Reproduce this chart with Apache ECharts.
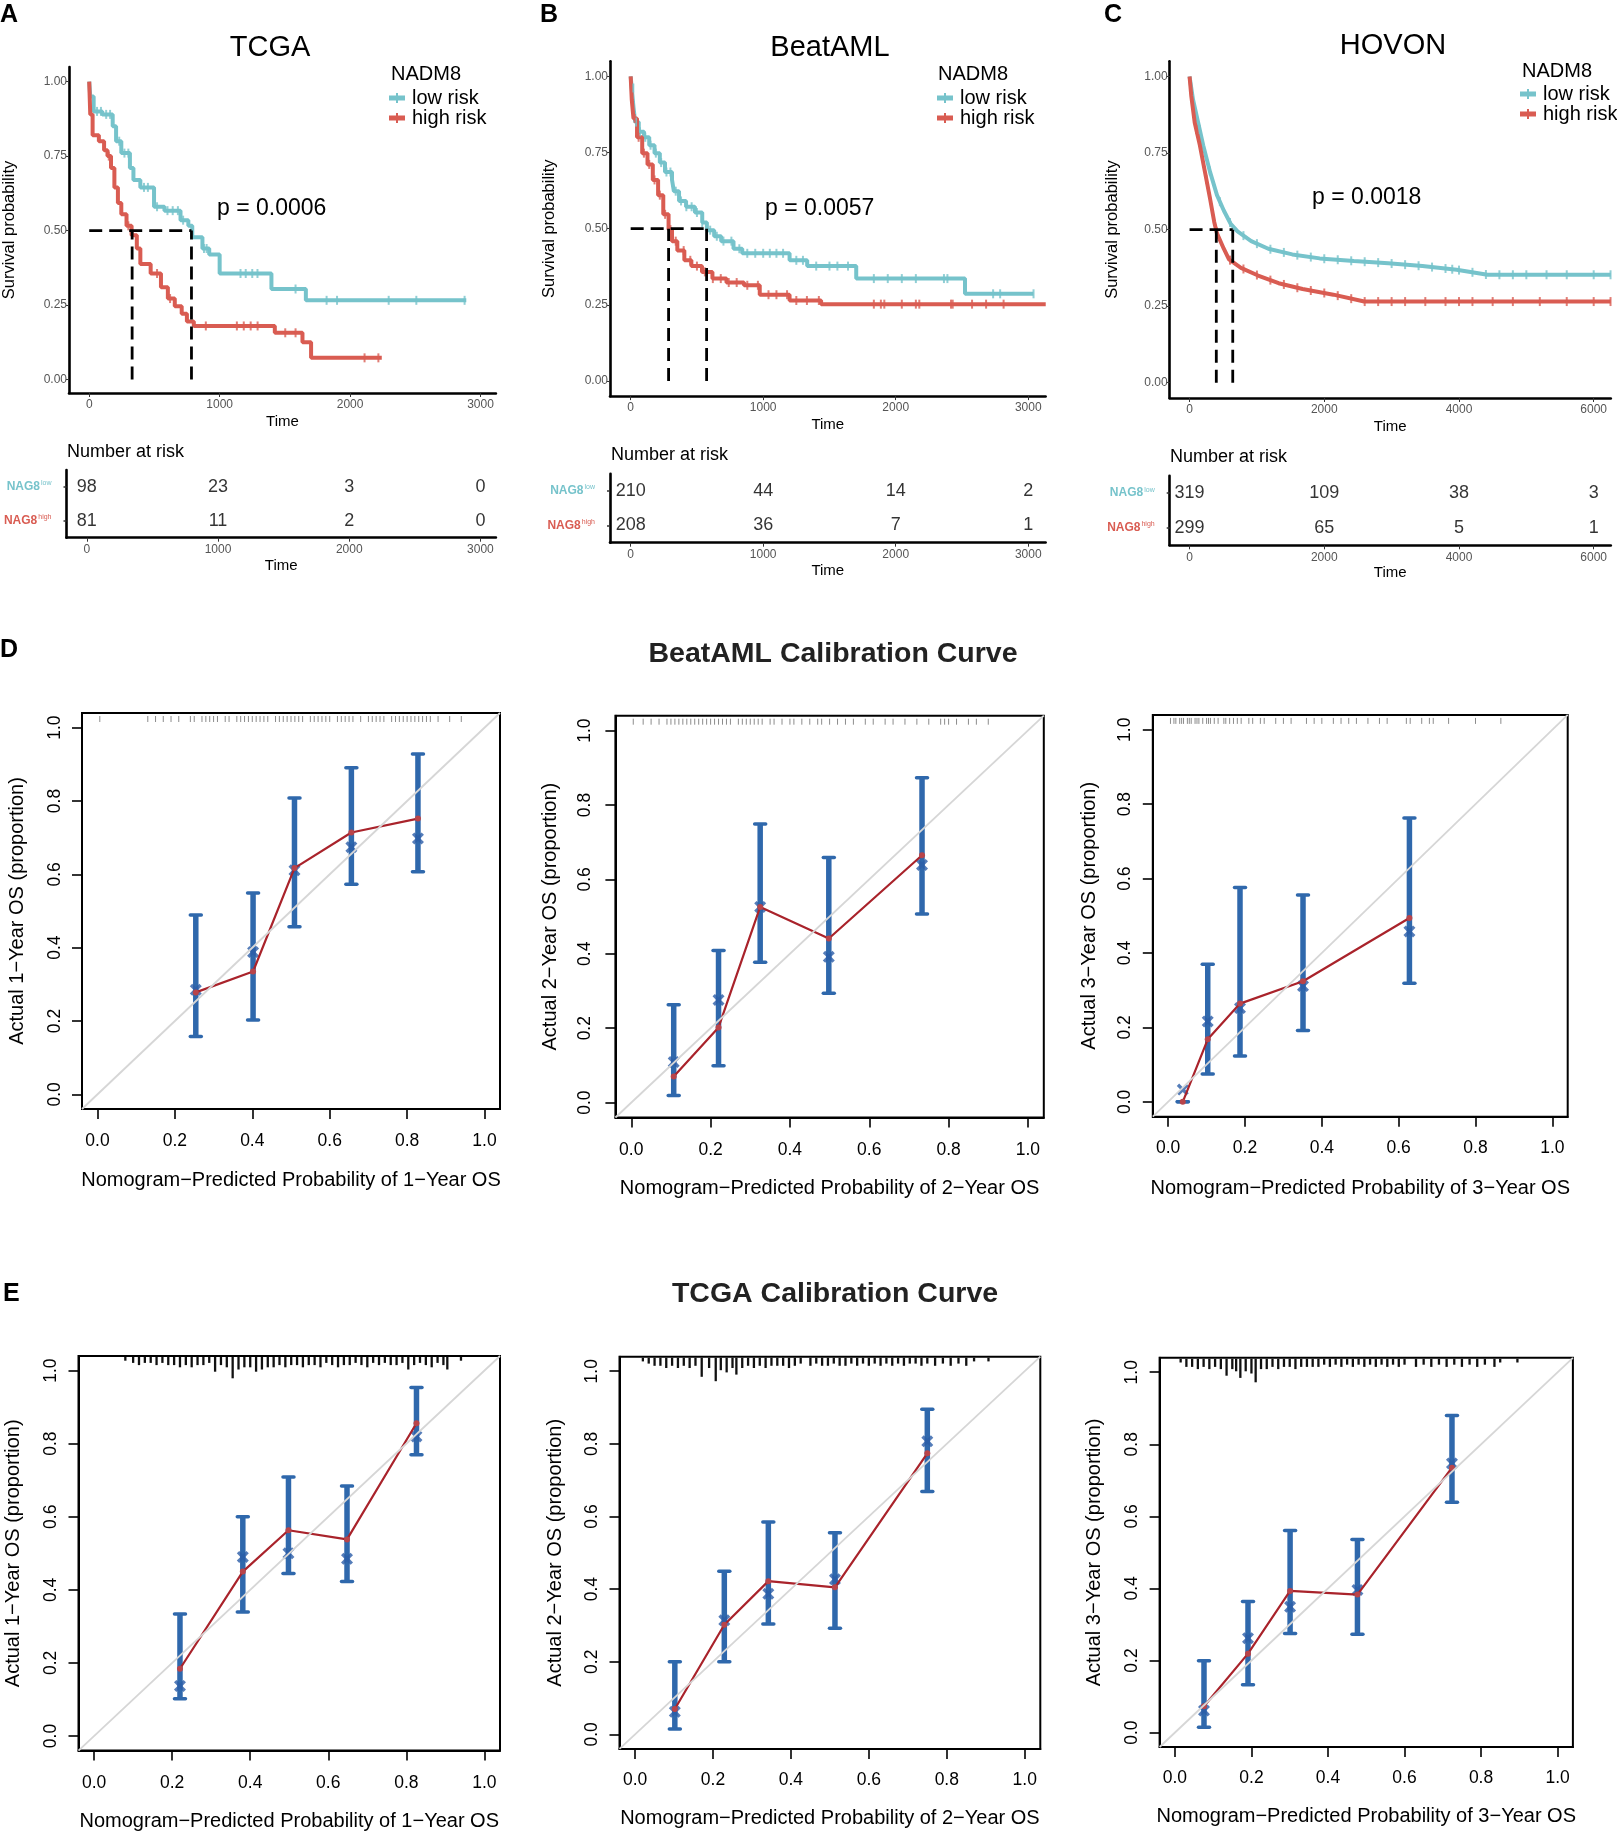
<!DOCTYPE html>
<html><head><meta charset="utf-8">
<script src="https://cdn.jsdelivr.net/npm/echarts@6/dist/echarts.min.js"></script>
<style>html,body{margin:0;padding:0;background:#fff}#c{width:1617px;height:1832px}</style>
</head><body><div id="c"></div>
<script>
// ---------------- DATA ----------------
// Kaplan-Meier curves: [time (days), survival after step]
const tcgaLow = [[0,1],[8,0.95],[34,0.90],[100,0.89],[180,0.85],[206,0.80],[246,0.76],[312,0.71],[339,0.67],[392,0.645],[497,0.58],[577,0.567],[700,0.535],[760,0.516],[790,0.478],[868,0.44],[920,0.42],[1000,0.356],[1397,0.304],[1661,0.266],[2891,0.266]];
const tcgaHigh = [[0,1],[8,0.89],[26,0.82],[74,0.80],[114,0.77],[140,0.75],[167,0.71],[193,0.645],[220,0.593],[246,0.555],[286,0.516],[325,0.484],[365,0.44],[392,0.388],[471,0.356],[550,0.31],[603,0.272],[656,0.246],[709,0.221],[749,0.195],[802,0.18],[1423,0.157],[1635,0.125],[1701,0.073],[2243,0.073]];
const beatLow = [[0,1],[8,0.962],[21,0.90],[34,0.85],[61,0.818],[101,0.80],[140,0.774],[180,0.748],[220,0.717],[259,0.686],[312,0.66],[326,0.623],[365,0.591],[418,0.572],[485,0.553],[540,0.52],[575,0.495],[630,0.475],[683,0.459],[776,0.434],[842,0.419],[1199,0.396],[1332,0.377],[1702,0.336],[2523,0.286],[3039,0.286]];
const beatHigh = [[0,1],[8,0.925],[21,0.862],[48,0.80],[87,0.748],[127,0.711],[167,0.66],[207,0.61],[246,0.547],[286,0.497],[312,0.459],[352,0.428],[405,0.396],[458,0.377],[538,0.358],[617,0.336],[723,0.323],[855,0.314],[974,0.283],[1199,0.264],[1437,0.252],[3132,0.252]];
const hovonLow = [[0,1],[51,0.925],[127,0.85],[203,0.775],[305,0.6875],[407,0.6125],[508,0.5625],[610,0.519],[712,0.494],[915,0.4625],[1169,0.4375],[1525,0.419],[1932,0.406],[2440,0.3975],[2949,0.39],[3457,0.381],[3965,0.369],[4423,0.3525],[6253,0.3525]];
const hovonHigh = [[0,1],[25,0.9375],[76,0.85],[153,0.775],[229,0.6875],[305,0.60],[366,0.525],[407,0.4875],[508,0.4375],[585,0.4025],[763,0.375],[1017,0.35],[1322,0.325],[1678,0.306],[2135,0.2875],[2593,0.265],[6253,0.265]];
// censoring times (marks on the curves)
const tcgaLowCens = [60,90,130,160,230,270,300,420,450,520,600,640,680,720,880,900,1160,1200,1250,1290,1582,1820,1900,2296,2508,2878];
const tcgaHighCens = [150,300,520,620,894,1132,1185,1238,1291,1503,1582,2111,2217];
const beatLowCens = [20,40,70,110,150,190,230,270,300,340,380,420,460,500,540,600,650,700,760,820,880,940,1000,1050,1100,1150,1250,1300,1400,1500,1560,1640,1835,1940,2046,2152,2364,2390,2735,2788,3040];
const beatHighCens = [30,60,100,140,180,220,260,300,340,400,450,500,560,620,680,740,800,880,960,1040,1100,1180,1250,1330,1420,1835,1888,1914,2046,2152,2178,2417,2430,2576,2682,2814,3132];
const hovonLowCens = [150,300,450,600,800,1000,1200,1400,1600,1800,2000,2200,2400,2600,2800,3000,3200,3400,3600,3800,3900,4000,4200,4400,4600,4800,5000,5300,5600,6000,6250];
const hovonHighCens = [100,250,400,600,800,1000,1200,1400,1600,1800,2000,2200,2400,2600,2800,3000,3200,3500,3800,4000,4200,4500,4800,5200,5600,6000,6250];
// median survival times [high risk, low risk]
const tcgaMedian = [329, 784];
const beatMedian = [286, 573];
const hovonMedian = [397, 641];
const pValues = ['0.0006', '0.0057', '0.0018'];
const kmTitles = ['TCGA', 'BeatAML', 'HOVON'];
// ticks
const kmTicksA = [0,1000,2000,3000];
const kmTicksB = [0,1000,2000,3000];
const kmTicksC = [0,2000,4000,6000];
const kmYTicks = [0,0.25,0.5,0.75,1];
const calTicks = [0,0.2,0.4,0.6,0.8,1];
// numbers at risk
const riskRows = ['low','high'];
const tcgaRiskLow = [98,23,3,0];
const tcgaRiskHigh = [81,11,2,0];
const beatRiskLow = [210,44,14,2];
const beatRiskHigh = [208,36,7,1];
const hovonRiskLow = [319,109,38,3];
const hovonRiskHigh = [299,65,5,1];

// Calibration (x = predicted, obs = observed, corr = bias-corrected, lo/hi = CI)
const calX_D1 = [0.254,0.402,0.509,0.656,0.828];
const calObs_D1 = [0.278,0.335,0.617,0.714,0.752];
const calCorr_D1 = [0.285,0.388,0.611,0.674,0.698];
const calLo_D1 = [0.158,0.203,0.457,0.573,0.607];
const calHi_D1 = [0.489,0.549,0.808,0.891,0.928];

const calX_D2 = [0.107,0.220,0.325,0.498,0.733];
const calObs_D2 = [0.070,0.202,0.526,0.441,0.665];
const calCorr_D2 = [0.109,0.276,0.526,0.392,0.639];
const calLo_D2 = [0.019,0.099,0.377,0.294,0.507];
const calHi_D2 = [0.263,0.409,0.749,0.659,0.873];

const calX_D3 = [0.038,0.103,0.187,0.351,0.628];
const calObs_D3 = [0.0,0.168,0.264,0.324,0.494];
const calCorr_D3 = [0.033,0.216,0.252,0.311,0.458];
const calLo_D3 = [0.0,0.075,0.123,0.192,0.319];
const calHi_D3 = [0.0,0.370,0.576,0.556,0.763];

const calX_E1 = [0.220,0.381,0.498,0.648,0.826];
const calObs_E1 = [0.184,0.450,0.563,0.538,0.856];
const calCorr_E1 = [0.137,0.490,0.500,0.485,0.820];
const calLo_E1 = [0.102,0.339,0.445,0.423,0.770];
const calHi_E1 = [0.334,0.600,0.709,0.684,0.954];

const calX_E2 = [0.102,0.229,0.342,0.513,0.750];
const calObs_E2 = [0.070,0.302,0.422,0.405,0.774];
const calCorr_E2 = [0.062,0.314,0.387,0.427,0.807];
const calLo_E2 = [0.015,0.200,0.304,0.292,0.669];
const calHi_E2 = [0.200,0.449,0.585,0.555,0.895];

const calX_E3 = [0.076,0.191,0.301,0.477,0.724];
const calObs_E3 = [0.073,0.219,0.393,0.383,0.735];
const calCorr_E3 = [0.061,0.262,0.349,0.396,0.747];
const calLo_E3 = [0.015,0.133,0.275,0.273,0.639];
const calHi_E3 = [0.199,0.364,0.561,0.536,0.880];

// rug of predicted probabilities (BeatAML: positions; TCGA: [position, count])
const rug_D1 = [0.006,0.13,0.15,0.17,0.19,0.21,0.24,0.25,0.27,0.28,0.29,0.30,0.31,0.33,0.34,0.36,0.37,0.38,0.39,0.40,0.41,0.42,0.43,0.44,0.46,0.47,0.48,0.49,0.50,0.51,0.52,0.53,0.55,0.56,0.57,0.58,0.59,0.60,0.62,0.63,0.64,0.65,0.66,0.68,0.70,0.71,0.72,0.73,0.74,0.76,0.77,0.78,0.79,0.80,0.81,0.82,0.83,0.84,0.85,0.86,0.88,0.91,0.94];
const rug_D2 = [0.005,0.03,0.05,0.07,0.09,0.10,0.11,0.12,0.13,0.14,0.15,0.16,0.17,0.18,0.19,0.20,0.21,0.22,0.23,0.24,0.25,0.27,0.28,0.29,0.30,0.31,0.32,0.33,0.35,0.36,0.38,0.40,0.41,0.43,0.45,0.47,0.48,0.50,0.52,0.54,0.56,0.59,0.61,0.64,0.66,0.69,0.72,0.75,0.78,0.79,0.80,0.82,0.85,0.87,0.90];
const rug_D3 = [0.006,0.015,0.02,0.03,0.035,0.04,0.05,0.055,0.06,0.07,0.075,0.08,0.09,0.10,0.105,0.11,0.12,0.13,0.145,0.15,0.16,0.17,0.18,0.19,0.21,0.22,0.24,0.25,0.28,0.30,0.32,0.36,0.38,0.40,0.43,0.45,0.47,0.49,0.52,0.55,0.57,0.62,0.63,0.66,0.68,0.69,0.73,0.80,0.866];
const rug_E1 = [[0.08,1],[0.10,2],[0.115,3],[0.13,2],[0.145,2],[0.16,3],[0.175,2],[0.19,3],[0.205,3],[0.22,4],[0.235,3],[0.25,4],[0.265,3],[0.28,3],[0.295,2],[0.31,6],[0.325,3],[0.34,4],[0.355,9],[0.37,5],[0.385,4],[0.40,4],[0.415,6],[0.43,5],[0.445,4],[0.46,4],[0.475,3],[0.49,4],[0.505,3],[0.52,3],[0.535,4],[0.55,3],[0.565,3],[0.58,4],[0.595,2],[0.61,3],[0.625,4],[0.64,3],[0.655,3],[0.67,2],[0.685,3],[0.70,4],[0.715,2],[0.73,3],[0.745,2],[0.76,3],[0.775,3],[0.79,2],[0.805,5],[0.82,3],[0.835,2],[0.85,3],[0.865,4],[0.88,2],[0.895,3],[0.905,5],[0.94,1]];
const rug_E2 = [[0.02,1],[0.035,2],[0.05,3],[0.065,3],[0.08,4],[0.095,3],[0.11,4],[0.125,3],[0.14,4],[0.155,3],[0.171,8],[0.19,4],[0.207,10],[0.22,5],[0.235,6],[0.25,4],[0.26,7],[0.275,4],[0.29,3],[0.305,4],[0.32,3],[0.335,4],[0.35,3],[0.365,3],[0.38,3],[0.395,4],[0.41,3],[0.425,2],[0.45,3],[0.465,2],[0.48,3],[0.495,3],[0.51,2],[0.525,3],[0.54,3],[0.555,2],[0.57,3],[0.585,2],[0.60,3],[0.615,2],[0.63,3],[0.645,2],[0.66,3],[0.675,2],[0.69,3],[0.705,2],[0.72,2],[0.735,3],[0.75,2],[0.77,3],[0.79,2],[0.81,3],[0.83,2],[0.85,3],[0.87,1],[0.907,1]];
const rug_E3 = [[0.015,1],[0.03,3],[0.045,3],[0.06,4],[0.075,3],[0.09,4],[0.105,3],[0.12,4],[0.135,7],[0.15,4],[0.16,5],[0.171,8],[0.185,5],[0.20,6],[0.211,10],[0.225,4],[0.24,4],[0.255,3],[0.27,4],[0.285,3],[0.30,3],[0.315,4],[0.33,3],[0.345,3],[0.36,3],[0.375,3],[0.39,2],[0.405,3],[0.42,2],[0.435,3],[0.45,2],[0.465,3],[0.48,2],[0.495,3],[0.51,2],[0.525,3],[0.54,2],[0.555,3],[0.57,2],[0.585,3],[0.60,2],[0.63,3],[0.65,2],[0.67,3],[0.69,2],[0.71,3],[0.73,2],[0.75,3],[0.77,2],[0.79,3],[0.81,2],[0.835,3],[0.85,1],[0.895,1]];

const calNamesX = ['Nomogram\u2212Predicted Probability of 1\u2212Year OS','Nomogram\u2212Predicted Probability of 2\u2212Year OS','Nomogram\u2212Predicted Probability of 3\u2212Year OS'];
const calNamesY = ['Actual 1\u2212Year OS (proportion)','Actual 2\u2212Year OS (proportion)','Actual 3\u2212Year OS (proportion)'];

// ---------------- STYLE / LAYOUT ----------------
const FONT = 'Liberation Sans';
const CYAN = '#76C3CB', RED = '#D95C52', BLUE = '#2F68AC', DRED = '#A9232B';
const CAL_MIN = -0.04, CAL_MAX = 1.04;

const grids = [
  {left:66.5, top:67, width:429.4, height:326},
  {left:610, top:61.2, width:435.6, height:334.9},
  {left:1169.7, top:61.2, width:441.1, height:336.8},
  {left:66.5, top:470, width:429.4, height:67.7},
  {left:610, top:473.8, width:435.6, height:68.9},
  {left:1169.7, top:475.7, width:441.1, height:69.6},
  {left:82, top:713, width:418, height:396},
  {left:615.4, top:715.7, width:428.4, height:401.8},
  {left:1152.8, top:714.9, width:414.9, height:401.8},
  {left:78.5, top:1356, width:421.5, height:395.4},
  {left:619.5, top:1356.7, width:420.8, height:392.2},
  {left:1159.6, top:1357.8, width:413.3, height:389.2}
];
grids.forEach((g,i)=>{ if(i>=6){ g.show=true; g.borderColor='#000'; g.borderWidth=2; g.backgroundColor='rgba(0,0,0,0)'; } });

const kmXRange = [[-155,3118],[-156,3131],[-295,6254]];
const kmYRange = [[-0.045,1.049],[-0.05,1.05],[-0.05,1.05]];
const kmTicks = [kmTicksA, kmTicksB, kmTicksC];
const kmYNameGap = [51,52,49];

const xAxes = [], yAxes = [];
function kmXAxis(gi, k, labelMargin, nameGap){
  return {gridIndex:gi, type:'value', min:kmXRange[k][0], max:kmXRange[k][1],
    axisLine:{show:true,onZero:false,lineStyle:{color:'#000',width:2.6}},
    axisTick:{show:true,inside:false,customValues:kmTicks[k],length:4,lineStyle:{color:'#333',width:1}},
    axisLabel:{customValues:kmTicks[k],formatter:v=>String(v),color:'#555',fontSize:12,margin:labelMargin,fontFamily:FONT},
    splitLine:{show:false}, name:'Time', nameLocation:'middle', nameGap:nameGap,
    nameTextStyle:{color:'#000',fontSize:15,fontFamily:FONT}};
}
for(let k=0;k<3;k++){
  xAxes.push(kmXAxis(k,k,6,21));
  yAxes.push({gridIndex:k, type:'value', min:kmYRange[k][0], max:kmYRange[k][1],
    axisLine:{show:true,onZero:false,lineStyle:{color:'#000',width:2.6}},
    axisTick:{show:true,inside:false,customValues:kmYTicks,length:3,lineStyle:{color:'#333',width:1}},
    axisLabel:{customValues:kmYTicks,formatter:v=>v.toFixed(2),color:'#555',fontSize:12,margin:2,fontFamily:FONT},
    splitLine:{show:false}, name:'Survival probability', nameLocation:'middle', nameGap:kmYNameGap[k],
    nameTextStyle:{color:'#000',fontSize:16.5,fontFamily:FONT}});
}
const riskColorsRich = {
  a:{color:CYAN,fontSize:12,fontFamily:FONT,fontWeight:'bold',lineHeight:14},
  b:{color:CYAN,fontSize:7,fontFamily:FONT,verticalAlign:'top',lineHeight:14,padding:[0,0,6,1]},
  c:{color:RED,fontSize:12,fontFamily:FONT,fontWeight:'bold',lineHeight:14},
  d:{color:RED,fontSize:7,fontFamily:FONT,verticalAlign:'top',lineHeight:14,padding:[0,0,6,1]}
};
for(let k=0;k<3;k++){
  xAxes.push(kmXAxis(3+k,k,6,20.5));
  yAxes.push({gridIndex:3+k, type:'category', data:riskRows, inverse:true,
    axisLine:{show:true,onZero:false,lineStyle:{color:'#000',width:2.6}},
    axisTick:{show:true,alignWithLabel:true,length:3,lineStyle:{color:'#333',width:1.5}},
    axisLabel:{margin:15,formatter:v=> v==='low' ? '{a|NAG8}{b|low}' : '{c|NAG8}{d|high}', rich:riskColorsRich},
    splitLine:{show:false}});
}
const calXLabelMargin = [23.4,23.8,22.6,23.4,22.3,22.3];
const calXNameGap = [61.6,60.8,61.6,60.4,59.3,59.4];
const calYLabelMargin = [18.2,21.5,18.9,18,18.8,18.8];
const calYNameGap = [54.8,54.7,53.8,54.7,53.7,55.4];
for(let k=0;k<6;k++){
  const gi = 6+k;
  xAxes.push({gridIndex:gi, type:'value', min:CAL_MIN, max:CAL_MAX, position:'bottom',
    axisLine:{show:true,onZero:false,lineStyle:{color:'#000',width:2}},
    axisTick:{show:true,inside:false,customValues:calTicks,length:10,lineStyle:{color:'#000',width:1.6}},
    axisLabel:{customValues:calTicks,formatter:v=>v.toFixed(1),color:'#000',fontSize:17.5,margin:calXLabelMargin[k],fontFamily:FONT},
    splitLine:{show:false}, name:calNamesX[k%3], nameLocation:'middle', nameGap:calXNameGap[k],
    nameTextStyle:{color:'#000',fontSize:20,fontFamily:FONT}});
  yAxes.push({gridIndex:gi, type:'value', min:CAL_MIN, max:CAL_MAX, position:'left',
    axisLine:{show:true,onZero:false,lineStyle:{color:'#000',width:2}},
    axisTick:{show:true,inside:false,customValues:calTicks,length:10,lineStyle:{color:'#000',width:1.6}},
    axisLabel:{customValues:calTicks,formatter:v=>v.toFixed(1),color:'#000',fontSize:17.5,margin:calYLabelMargin[k],rotate:90,fontFamily:FONT},
    splitLine:{show:false}, name:calNamesY[k%3], nameLocation:'middle', nameGap:calYNameGap[k],
    nameTextStyle:{color:'#000',fontSize:20,fontFamily:FONT}});
}

// ---------------- SERIES ----------------
const series = [];
function survAt(curve, t, step){
  let prev = curve[0];
  for(let i=1;i<curve.length;i++){
    const p = curve[i];
    if(p[0] > t){
      if(step) return prev[1];
      return prev[1] + (p[1]-prev[1])*(t-prev[0])/(p[0]-prev[0]);
    }
    prev = p;
  }
  return prev[1];
}
const CENS = 'path://M0,0h2v10h-2z';
function kmLine(gi, name, data, color, step, cens){
  series.push({type:'line', name, xAxisIndex:gi, yAxisIndex:gi, data, step: step ? 'end' : false,
    showSymbol:false, symbol:'none', lineStyle:{color, width:4}, itemStyle:{color}, z:3, silent:true});
  series.push({type:'scatter', xAxisIndex:gi, yAxisIndex:gi, silent:true, z:4,
    data: cens.map(t=>[t, survAt(data, t, step)]), symbol:CENS, symbolSize:[2,9], itemStyle:{color}});
}
function dash(gi, pts){
  series.push({type:'line', xAxisIndex:gi, yAxisIndex:gi, data:pts, symbol:'none', showSymbol:false,
    lineStyle:{color:'#000', width:2.8, type:[13,7]}, z:5, silent:true});
}
function medianLines(gi, med){
  dash(gi, [[0,0.5],[Math.max(med[0],med[1]),0.5]]);
  dash(gi, [[med[0],0],[med[0],0.5]]);
  dash(gi, [[med[1],0],[med[1],0.5]]);
}
kmLine(0,'low risk',tcgaLow,CYAN,true,tcgaLowCens); kmLine(0,'high risk',tcgaHigh,RED,true,tcgaHighCens); medianLines(0,tcgaMedian);
kmLine(1,'low risk',beatLow,CYAN,true,beatLowCens); kmLine(1,'high risk',beatHigh,RED,true,beatHighCens); medianLines(1,beatMedian);
kmLine(2,'low risk',hovonLow,CYAN,false,hovonLowCens); kmLine(2,'high risk',hovonHigh,RED,false,hovonHighCens); medianLines(2,hovonMedian);

function riskSeries(gi, times, low, high){
  const data = [];
  times.forEach((t,i)=>{ data.push([t,'low',low[i]]); data.push([t,'high',high[i]]); });
  series.push({type:'scatter', xAxisIndex:gi, yAxisIndex:gi, data, symbolSize:1, itemStyle:{color:'rgba(0,0,0,0)'},
    encode:{x:0,y:1}, silent:true,
    label:{show:true, position:'inside', formatter:p=>String(p.value[2]), color:'#000', fontSize:18, fontFamily:FONT}});
}
riskSeries(3, kmTicksA, tcgaRiskLow, tcgaRiskHigh);
riskSeries(4, kmTicksB, beatRiskLow, beatRiskHigh);
riskSeries(5, kmTicksC, hovonRiskLow, hovonRiskHigh);

const XSYM = 'path://M2,0 L5,3 L8,0 L10,2 L7,5 L10,8 L8,10 L5,7 L2,10 L0,8 L3,5 L0,2 Z';
function calPanel(gi, xs, obs, corr, lo, hi, rug, bold){
  series.push({type:'custom', xAxisIndex:gi, yAxisIndex:gi, silent:true, z:2,
    data: bold ? rug : rug.map(v=>[v,1]),
    encode:{x:0},
    renderItem:(params, api)=>{
      const p = api.coord([api.value(0), CAL_MAX]);
      const len = bold ? api.value(1)*2.2 + 1.5 : 6;
      const y0 = bold ? p[1] + 1 : p[1] + 3;
      return {type:'line', shape:{x1:p[0],y1:y0,x2:p[0],y2:y0+len},
        style:{stroke: bold ? '#111' : '#8c8c8c', lineWidth: bold ? 2.3 : 1}};
    }});
  series.push({type:'custom', xAxisIndex:gi, yAxisIndex:gi, silent:true, z:3,
    data: xs.map((x,k)=>[x, lo[k], hi[k]]), encode:{x:0, y:[1,2]},
    renderItem:(params, api)=>{
      const a = api.coord([api.value(0), api.value(1)]);
      const b = api.coord([api.value(0), api.value(2)]);
      const cw = 5.5;
      return {type:'group', children:[
        {type:'line', shape:{x1:a[0],y1:a[1],x2:b[0],y2:b[1]}, style:{stroke:BLUE,lineWidth:5.5}},
        {type:'line', shape:{x1:a[0]-cw,y1:a[1],x2:a[0]+cw,y2:a[1]}, style:{stroke:BLUE,lineWidth:3.5,lineCap:'round'}},
        {type:'line', shape:{x1:b[0]-cw,y1:b[1],x2:b[0]+cw,y2:b[1]}, style:{stroke:BLUE,lineWidth:3.5,lineCap:'round'}}
      ]};
    }});
  series.push({type:'scatter', xAxisIndex:gi, yAxisIndex:gi, silent:true, z:4,
    data: xs.map((x,k)=>[x, corr[k]]), symbol:XSYM, symbolSize:12, itemStyle:{color:'#2A5DA8'}});
  series.push({type:'line', xAxisIndex:gi, yAxisIndex:gi, silent:true, z:5,
    data: xs.map((x,k)=>[x, obs[k]]), symbol:'circle', symbolSize:6, showSymbol:true,
    lineStyle:{color:DRED, width:2.2}, itemStyle:{color:'#B8444A'}});
  series.push({type:'line', xAxisIndex:gi, yAxisIndex:gi, silent:true, z:6,
    data:[[CAL_MIN,CAL_MIN],[CAL_MAX,CAL_MAX]], symbol:'none', showSymbol:false,
    lineStyle:{color:'#d6d6d6', width:1.8}});
}
calPanel(6, calX_D1, calObs_D1, calCorr_D1, calLo_D1, calHi_D1, rug_D1, false);
calPanel(7, calX_D2, calObs_D2, calCorr_D2, calLo_D2, calHi_D2, rug_D2, false);
calPanel(8, calX_D3, calObs_D3, calCorr_D3, calLo_D3, calHi_D3, rug_D3, false);
calPanel(9, calX_E1, calObs_E1, calCorr_E1, calLo_E1, calHi_E1, rug_E1, true);
calPanel(10, calX_E2, calObs_E2, calCorr_E2, calLo_E2, calHi_E2, rug_E2, true);
calPanel(11, calX_E3, calObs_E3, calCorr_E3, calLo_E3, calHi_E3, rug_E3, true);

// ---------------- TEXT ----------------
function T(text, left, top, size, opts){
  return Object.assign({text, left, top, padding:0, itemGap:0,
    textStyle:Object.assign({fontFamily:FONT, fontSize:size, color:'#000', fontWeight:'normal'}, (opts&&opts.ts)||{})},
    (opts&&opts.extra)||{});
}
const B = {ts:{fontWeight:'bold'}};
const CEN = {extra:{textAlign:'center'}};
const titles = [
  T('A',0,3,25,B), T('B',540,3,25,B), T('C',1104,3,25,B), T('D',0,638,25,B), T('E',3,1282,25,B),
  T(kmTitles[0],270,33,29,CEN),
  T(kmTitles[1],830,33,29,CEN),
  T(kmTitles[2],1393,31,29,CEN),
  T('p = '+pValues[0],217,197,23), T('p = '+pValues[1],765,197,23), T('p = '+pValues[2],1312,186,23),
  T('NADM8',391,64,20), T('NADM8',938,64,20), T('NADM8',1522,61,20),
  T('Number at risk',67,443,18), T('Number at risk',611,446,18), T('Number at risk',1170,448,18),
  T('BeatAML Calibration Curve',833,640,28.5,{ts:{fontWeight:'bold',color:'#222'},extra:{textAlign:'center'}}),
  T('TCGA Calibration Curve',835,1280,28.5,{ts:{fontWeight:'bold',color:'#222'},extra:{textAlign:'center'}})
];
const LICON = 'path://M0,5h32v10h-32z M14,0h4v20h-4z';
function L(left, top){
  return {data:['low risk','high risk'], left, top, orient:'vertical', padding:0, itemGap:0,
    itemWidth:16, itemHeight:10, icon:LICON, selectedMode:false,
    textStyle:{fontFamily:FONT, fontSize:20, color:'#000', lineHeight:19, padding:[0,0,0,2]}};
}

const chart = echarts.init(document.getElementById('c'), null, {renderer:'canvas'});
chart.setOption({
  animation:false, backgroundColor:'#fff',
  textStyle:{fontFamily:FONT},
  title:titles,
  legend:[L(389,88), L(937,88), L(1520,84)],
  grid:grids, xAxis:xAxes, yAxis:yAxes, series
});
</script></body></html>
